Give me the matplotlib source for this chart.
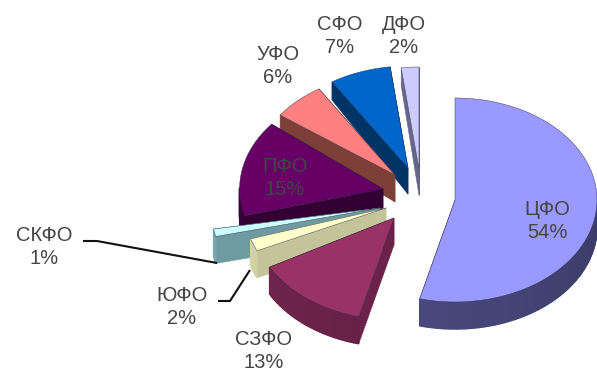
import numpy as np
import matplotlib
matplotlib.use("Agg")
import matplotlib.pyplot as plt
from matplotlib.patches import Polygon
from matplotlib.colors import to_rgb

# Federal district shares, percent, clockwise from twelve o'clock
districts = ["ЦФО", "СЗФО", "ЮФО", "СКФО", "ПФО", "УФО", "СФО", "ДФО"]
shares = [54, 13, 2, 1, 15, 6, 7, 2]

top_colors = ["#9999FF", "#993366", "#FFFFCC", "#CCFFFF", "#660066", "#FF8080", "#0066CC", "#CCCCFF"]
wall_colors = ["#4A4A80", "#6A2248", "#C4C49A", "#6F9AA2", "#330033", "#7C4038", "#003366", "#66668C"]

# Exploded position of each slice's tip, radius factor and angular nudge
tip_x = [455, 394, 386, 380, 383, 395, 408, 419]
tip_y = [200, 218, 208, 208, 189, 175, 168, 169]
radius_factor = [1, 1, 1, 1.19, 1.01, 1, 1, 1]
angle_nudge = [0, 0, 4, 8, 3, 0, 0, 0]

# Back-to-front painting order
draw_order = [7, 6, 5, 4, 0, 3, 2, 1]

RX, RY = 142, 102

# Label centres and leader polylines
label_x = [547, 264, 182, 44, 285, 278, 340, 404]
label_y = [221, 351, 307, 247, 178, 66, 36, 36]
leader_x = {"СКФО": [83, 97, 217], "ЮФО": [218, 230, 250]}
leader_y = {"СКФО": [241, 241, 263], "ЮФО": [301, 301, 270]}


def depth(y):
    # Walls get shorter towards the back of the pie
    return np.clip(18 + (np.asarray(y, float) - 110) * 0.14, 18, 27)


def shaded(color, factor):
    return tuple(min(1, c * factor) for c in to_rgb(color))


plt.rcParams["font.family"] = ["Liberation Sans", "DejaVu Sans"]
fig = plt.figure(figsize=(5.97, 3.74), dpi=100, facecolor="white")
ax = fig.add_axes([0, 0, 1, 1])
ax.set_xlim(0, 597)
ax.set_ylim(374, 0)
ax.axis("off")

edges = np.cumsum([0] + shares) * 3.6
edge_line = "#2A2A40"

for i in draw_order:
    a0 = edges[i] + angle_nudge[i]
    a1 = edges[i + 1] + angle_nudge[i]
    th = np.radians(np.linspace(a0, a1, max(int(a1 - a0) + 2, 4)))
    r = radius_factor[i]
    ax_ = tip_x[i] + RX * r * np.sin(th)
    ay_ = tip_y[i] - RY * r * np.cos(th)
    cx, cy = tip_x[i], tip_y[i]

    # Straight side walls, hidden under the top face when they face away
    for ex, ey in ((ax_[0], ay_[0]), (ax_[-1], ay_[-1])):
        quad = [(cx, cy), (ex, ey), (ex, ey + depth(ey)), (cx, cy + depth(cy))]
        ax.add_patch(Polygon(quad, closed=True, facecolor=wall_colors[i],
                             edgecolor=wall_colors[i], lw=0.4))

    # Rim facets on the front half, shaded by direction
    for k in range(len(th) - 1):
        mid = (th[k] + th[k + 1]) / 2
        if np.cos(mid) >= 0.02:
            continue
        quad = [(ax_[k], ay_[k]), (ax_[k + 1], ay_[k + 1]),
                (ax_[k + 1], ay_[k + 1] + depth(ay_[k + 1])),
                (ax_[k], ay_[k] + depth(ay_[k]))]
        f = 0.8 + 0.3 * (np.degrees(mid) % 360 - 90) / 180
        c = shaded(wall_colors[i], f)
        ax.add_patch(Polygon(quad, closed=True, facecolor=c, edgecolor=c, lw=1.0))

    outline = np.column_stack([np.r_[cx, ax_], np.r_[cy, ay_]])
    ax.add_patch(Polygon(outline, closed=True, facecolor=top_colors[i],
                         edgecolor=edge_line, lw=0.3, joinstyle="round"))

for name in leader_x:
    ax.plot(leader_x[name], leader_y[name], color="#111111", lw=1.5,
            solid_capstyle="butt")

for name, share, x, y in zip(districts, shares, label_x, label_y):
    ax.text(x, y, f"{name}\n{share}%", ha="center", va="center", fontsize=14.5,
            color="#454545", linespacing=1.32)

fig.savefig("out.png", dpi=100, facecolor="white")
